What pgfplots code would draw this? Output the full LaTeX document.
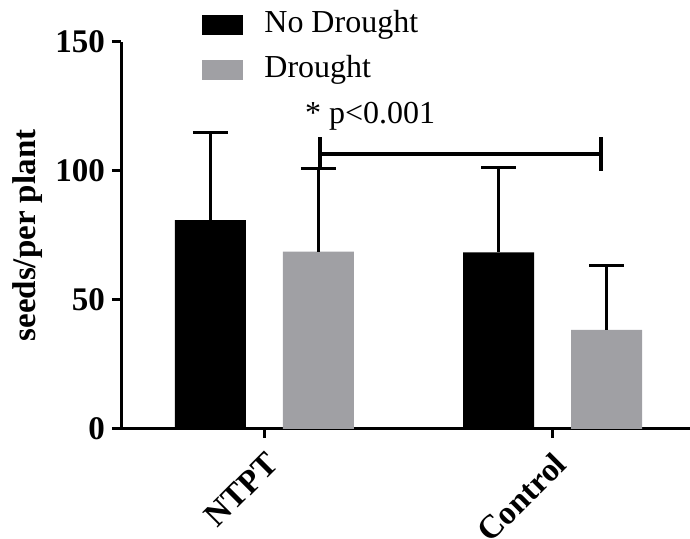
\documentclass[border=0pt]{standalone}
\usepackage{fontspec}
\setmainfont{Liberation Serif}
\usepackage{pgfplots}
\pgfplotsset{compat=1.18}
\definecolor{drgray}{RGB}{160,160,164}
\begin{document}
\begin{tikzpicture}
\path[use as bounding box] (-60.5pt,-55pt) rectangle (284.5pt,214.5pt);
\begin{axis}[
  at={(0pt,0pt)}, anchor=south west,
  scale only axis, width=284.5pt, height=193.5pt,
  xmin=-0.498, xmax=1.477, ymin=0, ymax=150,
  axis x line*=bottom, axis y line*=left,
  axis line style={line width=1.5pt},
  tick style={line width=1.5pt, black},
  major tick length=4.5pt, tick align=outside,
  xtick={0,1}, xticklabels={NTPT,Control},
  ytick={0,50,100,150},
  tick label style={font=\fontsize{16.5}{18}\selectfont\bfseries},
  /pgf/number format/assume math mode=true,
  x tick label style={rotate=45, anchor=east, xshift=-1pt, yshift=-10pt},
  ylabel={seeds/per plant},
  every axis y label/.style={at={(axis description cs:-0.1634,0.5)}, rotate=90, anchor=center, font=\fontsize{16.5}{18}\selectfont\bfseries},
  clip=false,
  legend image code/.code={\fill[#1] (0pt,-5pt) rectangle (20.5pt,5pt); \path (29pt,0pt);},
  legend style={draw=none, fill=none, at={(axis description cs:0.1424,1.083)}, anchor=north west,
    font=\fontsize{16}{18}\selectfont, inner sep=0pt, row sep=8pt,
    nodes={inner ysep=0pt, text height=11pt, text depth=3.5pt}},
  legend cell align=left,
  error bars/y dir=plus, error bars/y explicit,
  error bars/error bar style={line width=1.5pt, black},
  error bars/error mark options={rotate=90, mark size=8.75pt, line width=1.5pt, black},
]
% bars placed at category +- 0.1875 (bar centres)
\addplot[ybar, bar width=35.5pt, bar shift=0pt, fill=black, draw=none]
  coordinates {(-0.1875,81.0) +- (0,34.1) (0.8125,68.5) +- (0,32.8)};
\addplot[ybar, bar width=35.5pt, bar shift=0pt, fill=drgray, draw=none]
  coordinates {(0.1875,68.7) +- (0,32.1) (1.1875,38.4) +- (0,24.8)};
\legend{No Drought, Drought}
\draw[line width=1.75pt] (axis cs:0.193,101) -- (axis cs:0.193,113);
\draw[line width=1.75pt] (axis cs:0.193,106.5) -- (axis cs:1.168,106.5);
\draw[line width=1.75pt] (axis cs:1.168,100) -- (axis cs:1.168,113);
\node[anchor=base west, font=\fontsize{16}{18}\selectfont, inner sep=0pt] at (axis cs:0.14,118.6) {* p<0.001};
\end{axis}
\end{tikzpicture}
\end{document}
